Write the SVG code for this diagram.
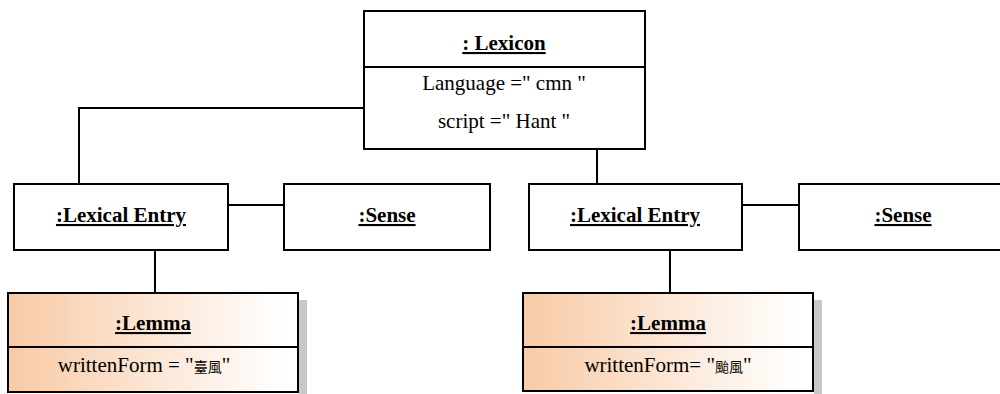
<svg xmlns="http://www.w3.org/2000/svg" width="1000" height="394" viewBox="0 0 1000 394">
<style>
.box{fill:#fff;stroke:#000;stroke-width:2}
.lem{fill:url(#g);stroke:#000;stroke-width:2}
.ln{fill:none;stroke:#000;stroke-width:2}
.sh{fill:#c8c8c8}
.b{font-weight:bold;text-decoration:underline}
</style>
<defs>
<linearGradient id="g" x1="0" y1="0" x2="1" y2="0">
<stop offset="0" stop-color="#f8caa6"/>
<stop offset="0.95" stop-color="#ffffff"/>
</linearGradient>
</defs>
<g id="connectors">
<path class="ln" d="M364 108 H79 V184"/>
<path class="ln" d="M597 149 V184"/>
<path class="ln" d="M228 205 H284"/>
<path class="ln" d="M742 205 H799"/>
<path class="ln" d="M155 250 V293"/>
<path class="ln" d="M670 250 V293"/>
</g>
<g font-family="'Liberation Serif', 'DejaVu Serif', serif" font-size="21" text-anchor="middle" fill="#000">
<g id="lexicon">
<rect class="box" x="364" y="11" width="281" height="138"/>
<line class="ln" x1="364" y1="67" x2="645" y2="67"/>
<text class="b" x="504" y="50">: Lexicon</text>
<text x="504" y="90">Language =" cmn "</text>
<text x="504" y="128">script =" Hant "</text>
</g>
<g id="lexentry1">
<rect class="box" x="14" y="184" width="214" height="66"/>
<text class="b" x="121" y="222">:Lexical Entry</text>
</g>
<g id="sense1">
<rect class="box" x="284" y="184" width="206" height="66"/>
<text class="b" x="387" y="222">:Sense</text>
</g>
<g id="lexentry2">
<rect class="box" x="529" y="184" width="213" height="66"/>
<text class="b" x="635" y="222">:Lexical Entry</text>
</g>
<g id="sense2">
<rect class="box" x="799" y="184" width="210" height="66"/>
<text class="b" x="903" y="222">:Sense</text>
</g>
<g id="lemma1">
<rect class="sh" x="299" y="300" width="8" height="94"/>
<rect class="lem" x="8" y="293" width="290" height="99"/>
<line class="ln" x1="8" y1="347" x2="298" y2="347"/>
<text class="b" x="153" y="330">:Lemma</text>
<text x="144" y="372">writtenForm = "<tspan font-family="'Noto Sans CJK TC', 'Noto Sans CJK SC', sans-serif" font-size="14">臺風</tspan>"</text>
</g>
<g id="lemma2">
<rect class="sh" x="814" y="300" width="8" height="94"/>
<rect class="lem" x="523" y="293" width="290" height="98"/>
<line class="ln" x1="523" y1="347" x2="813" y2="347"/>
<text class="b" x="668" y="330">:Lemma</text>
<text x="668" y="372">writtenForm= "<tspan font-family="'Noto Sans CJK TC', 'Noto Sans CJK SC', sans-serif" font-size="14">颱風</tspan>"</text>
</g>
</g>
</svg>
